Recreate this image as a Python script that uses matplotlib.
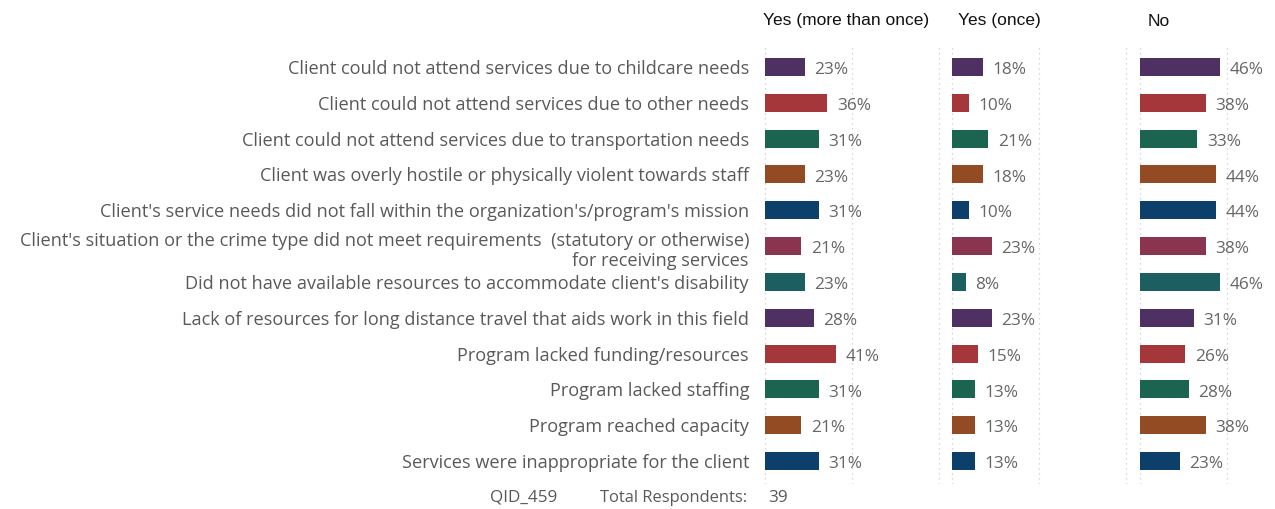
import matplotlib
matplotlib.use("Agg")
import matplotlib.pyplot as plt

categories = [
    "Client could not attend services due to childcare needs",
    "Client could not attend services due to other needs",
    "Client could not attend services due to transportation needs",
    "Client was overly hostile or physically violent towards staff",
    "Client's service needs did not fall within the organization's/program's mission",
    "Client's situation or the crime type did not meet requirements  (statutory or otherwise)\nfor receiving services",
    "Did not have available resources to accommodate client's disability",
    "Lack of resources for long distance travel that aids work in this field",
    "Program lacked funding/resources",
    "Program lacked staffing",
    "Program reached capacity",
    "Services were inappropriate for the client",
]
columns = ["Yes (more than once)", "Yes (once)", "No"]
yes_more = [23, 36, 31, 23, 31, 21, 23, 28, 41, 31, 21, 31]
yes_once = [18, 10, 21, 18, 10, 23, 8, 23, 15, 13, 13, 13]
no_vals = [46, 38, 33, 44, 44, 38, 46, 31, 26, 28, 38, 23]
row_colors = ["#4F3063", "#A5373A", "#1B6450", "#924B22", "#0C406B", "#8A3450",
              "#1B5F60", "#4F3063", "#A5373A", "#1B6450", "#924B22", "#0C406B"]
qid = "QID_459"
total_label = "Total Respondents:"
total_n = "39"

label_font = "Open Sans"

W, H = 1275, 510
fig = plt.figure(figsize=(W / 100, H / 100), dpi=100)

zeros_px = [765, 952, 1140]
px_per_unit = 173.5  # pixels per 100%
xmin, xmax = -0.05, 1.03
top_px, bot_px = 45, 485
n = len(categories)

series = [yes_more, yes_once, no_vals]
text_gray = "#666666"

for k, vals in enumerate(series):
    left_px = zeros_px[k] + xmin * px_per_unit
    width_px = (xmax - xmin) * px_per_unit
    ax = fig.add_axes([left_px / W, 1 - bot_px / H, width_px / W, (bot_px - top_px) / H])
    ax.set_xlim(xmin, xmax)
    ax.set_ylim(n - 1 + 0.64, -0.64)
    for gx in (0, 0.5, 1.0):
        ax.axvline(gx, color="#cccccc", lw=0.9, ls=(0, (1, 3)), zorder=0)
    frac = [v / 100 for v in vals]
    ax.barh(range(n), frac, height=0.5, color=row_colors, zorder=2)
    for i, v in enumerate(vals):
        ax.text(v / 100 + 0.055, i + 0.06, f"{v}%", ha="left", va="center",
                fontsize=12.4, color=text_gray, family=label_font)
    ax.axis("off")

# category labels
for i, c in enumerate(categories):
    y_px = top_px + (i + 0.64) * (bot_px - top_px) / (n - 1 + 1.28)
    if "\n" in c:
        y_px += 3
    fig.text(749 / W, 1 - (y_px + 1) / H, c, ha="right", va="center",
             fontsize=13.1, color="#595959", family=label_font, linespacing=1.2)

# column headers
header_x = [763, 958, 1148]
for x, c in zip(header_x, columns):
    fig.text(x / W, 1 - 21 / H, c, ha="left", va="center", fontsize=12.5,
             color="#111111", family="Liberation Sans")

# footer
fig.text(490 / W, 1 - 498 / H, qid, ha="left", va="center", fontsize=12.3,
         color="#595959", family=label_font)
fig.text(600 / W, 1 - 498 / H, total_label, ha="left", va="center", fontsize=11.9,
         color="#595959", family=label_font)
fig.text(768 / W, 1 - 498 / H, total_n, ha="left", va="center", fontsize=12.3,
         color="#595959", family=label_font)

fig.savefig("out.png", dpi=100)
